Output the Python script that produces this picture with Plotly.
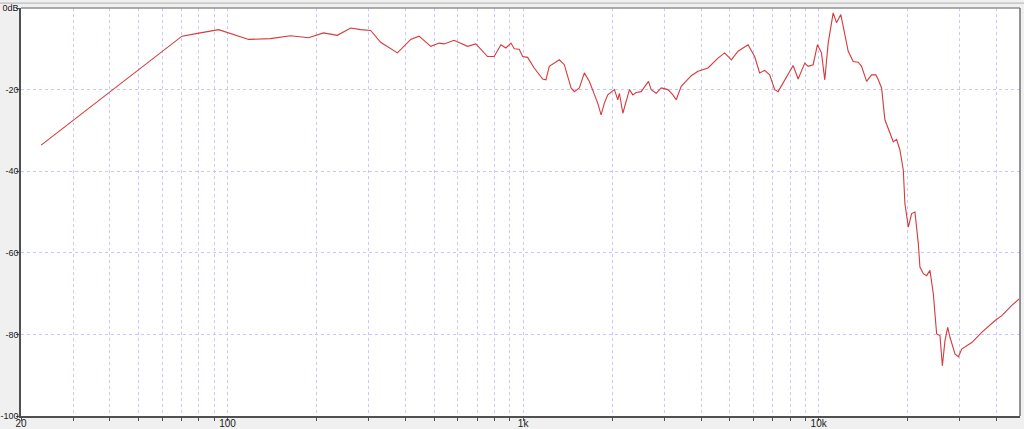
import plotly.graph_objects as go

# Frequency response (Hz, dB)
freq_hz = [23.4, 70.1, 80.9, 93.3, 117.9, 139.7, 163.3, 187.9, 211.2, 235.1,
           260.9, 282.0, 304.9, 329.6, 375.5, 416.6, 444.5, 487.0, 519.6, 540.3,
           584.1, 648.4, 691.8, 758.0, 798.1, 840.9, 874.4, 909.3, 933.0, 970.1,
           996.1, 1035.9, 1090.4, 1164.4, 1194.8, 1226.0, 1325.8, 1378.7,
           1452.6, 1490.5, 1549.9, 1611.4, 1675.6, 1741.9, 1788.6, 1835.7,
           1883.6, 1934.0, 1984.6, 2036.6, 2091.2, 2117.4, 2174.8, 2231.6,
           2289.9, 2351.3, 2412.7, 2508.9, 2655.6, 2711.6, 2820.3, 2932.2,
           3089.6, 3212.7, 3296.1, 3427.3, 3563.9, 3706.1, 3905.2,
           4221.9, 4564.9, 4806.5, 5064.8, 5336.1, 5767.7, 6072.4, 6313.7,
           6566.0, 6826.8, 7099.6, 7290.0, 7675.8, 8196.5, 8522.3, 8973.3,
           9214.1, 9580.0, 9906.0, 10221, 10488, 10770, 11197, 11490, 11883,
           12589, 13091, 13612, 13967, 14524, 15101, 15617, 15912, 16328,
           16755, 17418, 17885, 18353, 18832, 19337, 19579, 20109, 20634,
           21172, 21740, 22012, 22602, 23193, 23798, 24436, 25075, 25730,
           26214, 26751, 27323, 27818, 28923, 29706, 30482, 32961, 35628,
           39540, 41660, 45032, 47676]
level_db = [-33.6, -6.9, -6.1, -5.3, -7.7, -7.5, -6.8, -7.3, -6.1, -6.7,
            -4.9, -5.3, -5.5, -8.4, -11.0, -7.7, -6.9, -9.4, -8.6, -8.8,
            -7.9, -9.4, -8.8, -11.9, -11.9, -9.0, -9.8, -8.6, -10.0, -10.1,
            -11.9, -12.1, -14.7, -17.4, -17.6, -14.3, -12.7, -13.9,
            -19.6, -20.5, -19.6, -15.9, -18.0, -21.3, -23.3, -26.2,
            -23.3, -21.3, -20.7, -20.0, -22.5, -20.9, -25.8, -22.9,
            -20.0, -21.3, -20.7, -20.5, -18.0, -20.0, -20.9, -19.6,
            -20.0, -21.3, -22.5, -19.2, -18.0, -16.6, -15.5,
            -14.7, -12.3, -11.0, -12.7, -10.6, -9.0, -11.9, -15.9,
            -15.3, -16.4, -20.0, -20.5, -17.6, -14.1, -17.4, -13.5,
            -14.3, -13.9, -9.0, -11.0, -17.6, -8.6, -1.2, -3.6, -1.6,
            -10.6, -13.1, -13.3, -14.3, -18.0, -16.4, -16.4, -17.6, -19.6,
            -27.4, -30.7, -32.8, -32.2, -34.8, -39.7, -47.9, -53.7, -50.4,
            -50.0, -57.8, -63.5, -65.1, -65.6, -64.3, -70.1, -79.9, -80.3,
            -87.7, -81.6, -78.3, -80.7, -84.8, -85.5, -83.6, -82.0, -79.5,
            -76.6, -75.4, -72.9, -71.3]

# Axis ticks
x_grid = [20, 30, 40, 50, 60, 70, 80, 90,
          100, 200, 300, 400, 500, 600, 700, 800, 900,
          1000, 2000, 3000, 4000, 5000, 6000, 7000, 8000, 9000,
          10000, 20000, 30000, 40000]
x_labels = {20: "20", 100: "100", 1000: "1k", 10000: "10k"}
y_ticks = [0, -20, -40, -60, -80, -100]
y_labels = ["0dB", "-20", "-40", "-60", "-80", "-100"]

fig = go.Figure()
fig.add_trace(go.Scatter(
    x=freq_hz, y=level_db, mode="lines",
    line=dict(color="#d63a3a", width=1.1),
    hoverinfo="skip", showlegend=False,
))

font = dict(family="Liberation Sans", size=10, color="#202020")
yfont = dict(family="Liberation Sans", size=9, color="#202020")

fig.update_layout(
    width=1024, height=429,
    margin=dict(l=21, r=4, t=8, b=13, autoexpand=False),
    paper_bgcolor="#f0f0f0",
    plot_bgcolor="#ffffff",
    font=font,
    showlegend=False,
)
fig.update_xaxes(
    type="log", range=[1.30103, 4.68124],
    tickvals=x_grid,
    ticktext=[x_labels.get(v, "") for v in x_grid],
    showgrid=True, gridcolor="#c8c8ff", griddash="dot", gridwidth=1,
    ticks="outside", ticklen=3, tickcolor="#505050", tickwidth=1,
    showline=True, linecolor="#505050", linewidth=1.5,
    zeroline=False, tickfont=font, ticklabelstandoff=-6, automargin=False,
)
fig.update_yaxes(
    range=[-100, 0],
    tickvals=y_ticks, ticktext=y_labels,
    showgrid=True, gridcolor="#c8c8ff", griddash="dot", gridwidth=1,
    ticks="outside", ticklen=3, tickcolor="#505050", tickwidth=1,
    showline=True, linecolor="#505050", linewidth=1.5,
    zeroline=False, tickfont=yfont, ticklabelstandoff=-4, automargin=False,
)
# top and right frame lines
fig.add_shape(type="line", xref="x domain", yref="y domain",
              x0=0, x1=1, y0=1, y1=1, line=dict(color="#909090", width=1.5))
fig.add_shape(type="line", xref="x domain", yref="y domain",
              x0=1, x1=1, y0=0, y1=1, line=dict(color="#707070", width=1.5))
fig.add_shape(type="line", xref="paper", yref="paper",
              x0=-0.03, x1=1.01, y0=1.012, y1=1.012,
              line=dict(color="#b0b0b0", width=1))

fig.write_html(
    "out.html",
    config={"displayModeBar": False},
    post_script="document.body.style.margin='0';document.body.style.overflow='hidden';",
)
